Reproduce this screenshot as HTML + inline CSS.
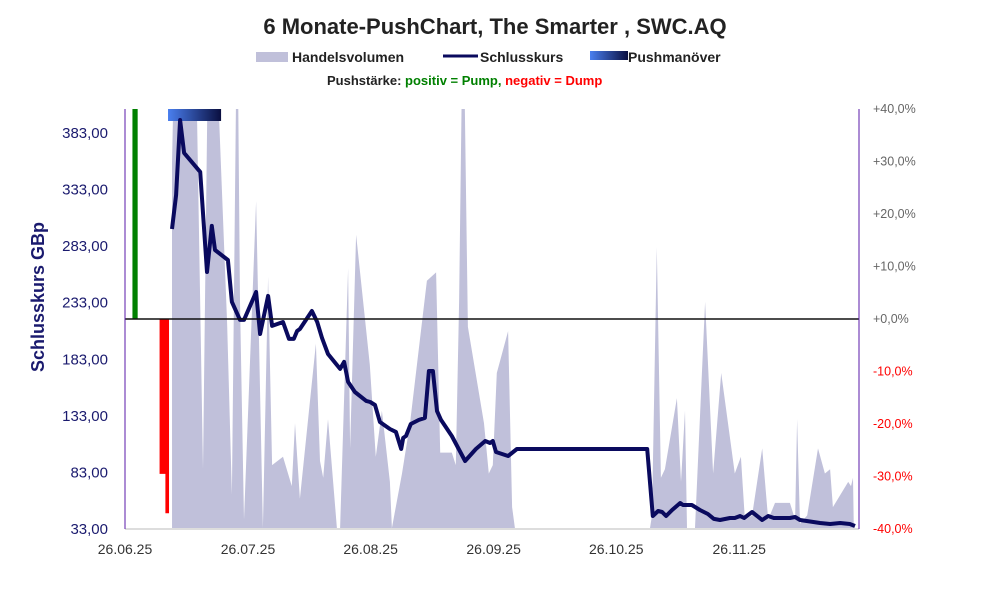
<!DOCTYPE html>
<html><head><meta charset="utf-8"><style>
body{margin:0;background:#fff;width:991px;height:593px;overflow:hidden;font-family:"Liberation Sans",sans-serif}
svg text{font-family:"Liberation Sans",sans-serif}
</style></head><body>
<svg id="chart" width="991" height="593" viewBox="0 0 991 593">
<defs><linearGradient id="pg" x1="0" x2="1" y1="0" y2="0"><stop offset="0" stop-color="#4a7fef"/><stop offset="1" stop-color="#0a0f40"/></linearGradient>
<clipPath id="plotclip"><rect x="125" y="109" width="734" height="420"/></clipPath></defs>
<text x="495" y="34" text-anchor="middle" font-size="22" font-weight="bold" fill="#222">6 Monate-PushChart, The Smarter , SWC.AQ</text>
<g>
<rect x="256" y="52" width="32" height="10" fill="#c0c0da"/>
<text x="292" y="62" font-size="14" font-weight="bold" fill="#222">Handelsvolumen</text>
<line x1="443" y1="56" x2="478" y2="56" stroke="#0a0a5e" stroke-width="3"/>
<text x="480" y="62" font-size="14" font-weight="bold" fill="#222">Schlusskurs</text>
<rect x="590" y="51" width="38" height="9" fill="url(#pg)"/>
<text x="628" y="62" font-size="14" font-weight="bold" fill="#222">Pushmanöver</text>
</g>
<text x="327" y="85" font-size="13" font-weight="bold" fill="#222">Pushstärke:  <tspan fill="#008000">positiv = Pump,</tspan>  <tspan fill="#ff0000">negativ = Dump</tspan></text>
<text transform="translate(44,297) rotate(-90)" text-anchor="middle" font-size="18" font-weight="bold" fill="#1a1a6e">Schlusskurs GBp</text>
<g id="vol" clip-path="url(#plotclip)"></g>
<g id="push"></g>
<g id="price" clip-path="url(#plotclip)"></g>
<g id="axes"></g>
</svg>
<script>
const volDays=[11.7,12.2,17.7,19.4,20.6,22.9,25.4,26.6,27.9,28.6,29.6,32.6,34.3,35.6,36.6,39.3,41.5,42.3,43.5,47.5,48.5,49.3,50.5,52.7,53.5,55.5,56.0,57.5,60.9,62.4,63.9,65.9,66.4,68.9,70.9,75.1,77.4,78.4,81.3,82.3,83.1,84.1,85.3,89.3,90.5,91.5,92.5,95.3,96.3,97.0,130.6,131.1,132.3,133.3,134.3,137.3,138.3,139.3,139.8,141.8,144.3,146.3,148.3,151.7,153.2,154.2,156.0,158.5,160.0,161.7,165.4,166.7,167.2,167.9,169.7,172.4,174.1,175.4,176.1,179.9,180.6,181.1,181.3];
const volValues=[87,110,110,14,110,110,49,8,130,54,2,78,0,60,15,17,10,25,7,44,16,12,26,0,0,62,19,70,39,17,28,11,0,13,25,59,61,18,18,15,54,130,48,25,13,15,37,47,5,0,0,3,67,12,14,31,11,28,0,0,54,13,37,13,17,2,3,19,2,6,6,2,26,1,3,19,13,14,5,11,10,12,0];
const priceDays=[11.7,12.7,13.7,14.7,18.7,20.4,21.6,22.4,25.6,26.6,28.6,29.6,32.6,33.6,35.6,36.6,39.3,40.8,42.0,42.8,43.5,46.5,47.8,49.0,50.5,53.5,54.5,55.5,57.2,60.0,61.0,62.2,63.4,65.9,67.4,68.7,69.2,69.9,71.1,73.1,74.6,75.6,76.6,77.6,78.6,81.3,84.6,87.3,89.6,90.8,91.5,92.3,95.3,97.5,129.9,131.3,132.6,133.6,134.6,136.1,138.1,138.8,141.0,143.0,145.0,146.5,148.0,150.5,151.7,153.0,154.0,156.0,158.5,160.0,161.4,165.4,166.7,167.9,172.9,175.4,177.9,180.3,181.6];
const priceValues=[297.3,327.3,393.6,364.5,347.7,259.3,300.0,278.7,269.9,232.8,216.9,216.9,241.6,204.5,238.1,211.6,215.1,200.1,200.1,207.1,208.9,224.8,215.1,201.0,186.8,173.6,179.8,162.1,153.2,145.3,144.4,141.7,126.7,120.5,117.9,102.8,112.6,114.3,124.9,128.5,130.2,171.8,171.8,136.4,128.5,114.3,92.2,102.8,109.9,108.1,109.9,100.2,96.6,102.8,102.8,43.6,48.0,47.1,43.6,48.9,55.1,53.3,53.3,48.9,45.4,41.0,40.1,41.8,41.8,43.6,41.8,47.1,40.1,43.6,41.8,41.8,42.7,40.1,37.4,36.5,37.4,36.5,34.8];
const pushDays=[2.5,9.5,10.5];
const pushValues=[40,-29.5,-37];
const pushWidths=[1.3,1.8,0.9];
const pushColors=['#008000','#ff0000','#ff0000'];
const maneuverStart=10.7, maneuverEnd=23.9;
const leftTicks=[33,83,133,183,233,283,333,383];
const leftTickLabels=['33,00','83,00','133,00','183,00','233,00','283,00','333,00','383,00'];
const rightTicks=[-40,-30,-20,-10,0,10,20,30,40];
const rightTickLabels=['-40,0%','-30,0%','-20,0%','-10,0%','+0,0%','+10,0%','+20,0%','+30,0%','+40,0%'];
const xTickDays=[0,30.6,61.1,91.7,122.2,152.8];
const xTickLabels=['26.06.25','26.07.25','26.08.25','26.09.25','26.10.25','26.11.25'];

const X0=125,X1=859,Y0=529,Y1=109;
const xS=d=>X0+d*4.02;
const yP=v=>528-(v-33)*396/350;
const yR=p=>319-p*210/40;
const yV=v=>528-v*4.19;
const NS='http://www.w3.org/2000/svg';
function mk(tag,attrs,parent){const e=document.createElementNS(NS,tag);for(const k in attrs)e.setAttribute(k,attrs[k]);document.getElementById(parent).appendChild(e);return e;}

let d='M'+xS(volDays[0])+' 528 ';
volDays.forEach((t,i)=>{d+='L'+xS(t).toFixed(1)+' '+yV(volValues[i]).toFixed(1)+' ';});
d+='L'+xS(volDays[volDays.length-1])+' 528 Z';
const va=mk('path',{d:d,fill:'#c0c0da'},'vol');



pushDays.forEach((t,i)=>{
 const w=pushWidths[i]*4.02, y=yR(pushValues[i]);
 const r=mk('rect',{x:xS(t)-w/2,y:Math.min(y,319),width:w,height:Math.abs(319-y),fill:pushColors[i]},'push');
 
 
});
const mb=mk('rect',{x:xS(maneuverStart),y:109,width:xS(maneuverEnd)-xS(maneuverStart),height:12,fill:'url(#pg)'},'push');



const pts=priceDays.map((t,i)=>xS(t).toFixed(1)+','+yP(priceValues[i]).toFixed(1)).join(' ');
const pl=mk('polyline',{points:pts,fill:'none',stroke:'#0a0a5e','stroke-width':4,'stroke-linejoin':'round'},'price');



const zl=mk('line',{x1:X0,x2:X1,y1:319,y2:319,stroke:'#111','stroke-width':1.5},'axes');


const bl=mk('line',{x1:X0,x2:X1,y1:Y0,y2:Y0,stroke:'#bbb','stroke-width':1},'axes');


const la=mk('line',{x1:X0,x2:X0,y1:Y1,y2:Y0,stroke:'#5a1aa8','stroke-width':1},'axes');


const ra=mk('line',{x1:X1,x2:X1,y1:Y1,y2:Y0,stroke:'#5a1aa8','stroke-width':1},'axes');



leftTicks.forEach((v,i)=>{
 const t=mk('text',{x:108,y:yP(v)+6,'text-anchor':'end','font-size':15,fill:'#1a1a6e'},'axes');
 t.textContent=leftTickLabels[i];
 
 
});
rightTicks.forEach((v,i)=>{
 const t=mk('text',{x:873,y:yR(v)+4,'font-size':12.5,fill:v<0?'#ff0000':'#666'},'axes');
 t.textContent=rightTickLabels[i];
 
 
});
xTickDays.forEach((v,i)=>{
 const t=mk('text',{x:xS(v),y:554,'text-anchor':'middle','font-size':14,fill:'#333'},'axes');
 t.textContent=xTickLabels[i];
 
 
});
</script>
</body></html>
